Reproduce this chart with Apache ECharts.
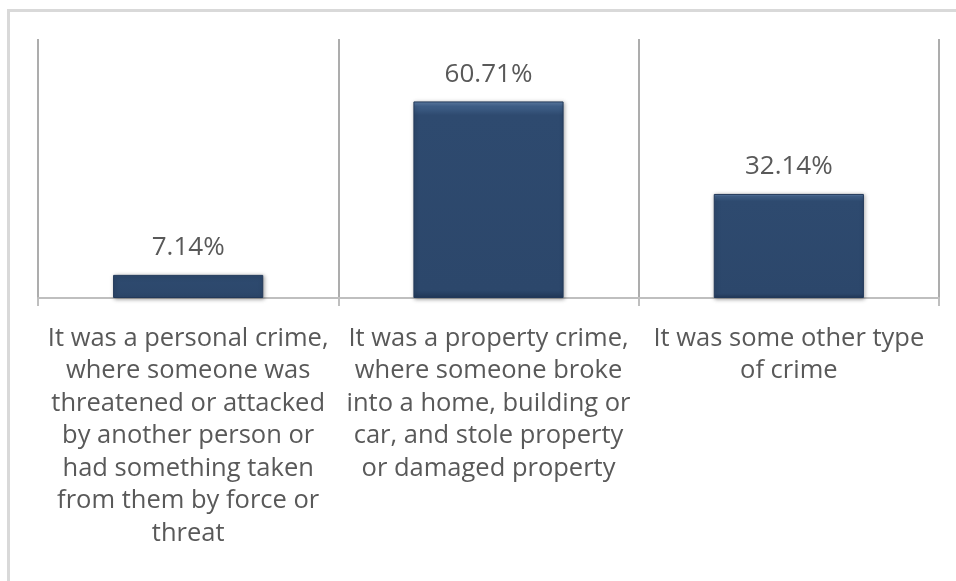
<!DOCTYPE html>
<html>
<head>
<meta charset="utf-8">
<script src="https://cdn.jsdelivr.net/npm/echarts@6/dist/echarts.min.js"></script>
<style>html,body{margin:0;padding:0;background:#fff;}#c{width:956px;height:581px;}</style>
</head>
<body>
<div id="c"></div>
<script>
var categories = [
  "It was a personal crime,\nwhere someone was\nthreatened or attacked\nby another person or\nhad something taken\nfrom them by force or\nthreat",
  "It was a property crime,\nwhere someone broke\ninto a home, building or\ncar, and stole property\nor damaged property",
  "It was some other type\nof crime"
];
var values = [7.14, 60.71, 32.14];

var chart = echarts.init(document.getElementById('c'));
var FONT = '"Open Sans", sans-serif';
chart.setOption({
  animation: false,
  backgroundColor: '#ffffff',
  graphic: [{
    type: 'rect', silent: true,
    shape: { x: 8.5, y: 10.5, width: 2000, height: 2000 },
    style: { fill: 'none', stroke: '#d9d9d9', lineWidth: 3 }
  }],
  grid: { left: 38, right: 17, top: 39, bottom: 283 },
  xAxis: {
    type: 'category',
    data: categories,
    boundaryGap: true,
    axisLine: { lineStyle: { color: '#bfbfbf', width: 2 } },
    axisTick: { show: true, length: 8, lineStyle: { color: '#bfbfbf', width: 2 } },
    splitLine: { show: true, lineStyle: { color: '#adadad', width: 2 } },
    axisLabel: {
      interval: 0, margin: 24,
      color: '#595959', fontFamily: FONT, fontSize: 25.5, lineHeight: 32.5,
      align: 'center'
    }
  },
  yAxis: {
    type: 'value', min: 0, max: 80, show: false,
    splitLine: { show: false }
  },
  series: [{
    type: 'bar',
    data: values,
    barWidth: '50%',
    itemStyle: {
      color: {
        type: 'linear', x: 0, y: 0, x2: 0, y2: 1,
        colorStops: [
          { offset: 0, color: '#6283ad' },
          { offset: 0.025, color: '#3f5f88' },
          { offset: 0.07, color: '#2e4a6f' },
          { offset: 0.96, color: '#2c476b' },
          { offset: 1, color: '#22395a' }
        ]
      },
      borderColor: '#22395a',
      borderWidth: 1,
      shadowColor: 'rgba(0,0,0,0.35)',
      shadowBlur: 4,
      shadowOffsetX: 1,
      shadowOffsetY: 1
    },
    label: {
      show: true, position: 'top', distance: 14,
      color: '#595959', fontFamily: FONT, fontSize: 26,
      formatter: function (p) { return p.value.toFixed(2) + '%'; }
    }
  }]
});
</script>
</body>
</html>
